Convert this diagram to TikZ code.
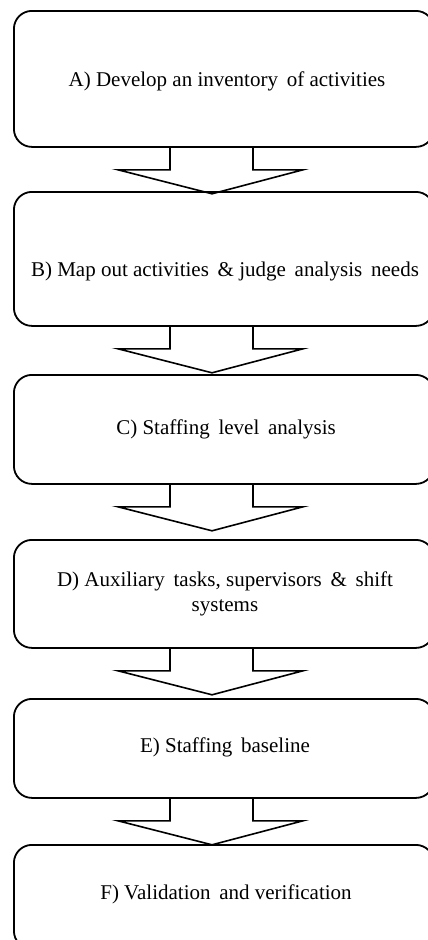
\documentclass[tikz,border=0pt]{standalone}
\usepackage{fontspec}
\setmainfont{Liberation Serif}
\usetikzlibrary{calc}
\begin{document}
\begin{tikzpicture}[x=1pt,y=-1pt,
  stagebox/.style={draw=black,line width=1.8pt,rounded corners=18pt,minimum width=420pt,anchor=north west,inner sep=0pt},
  stagetext/.style={font=\fontsize{21}{25}\selectfont,align=center,inner sep=0pt},
  conn/.style={draw=black,line width=1.6pt,line join=miter}]
\useasboundingbox (0,0) rectangle (428,940);
\fill[white] (0,0) rectangle (428,940);
% boxes
\node[stagebox,minimum height=136pt] (A) at (13,10) {};
\node[stagebox,minimum height=134pt] (B) at (13,191) {};
\node[stagebox,minimum height=109pt] (C) at (13,374) {};
\node[stagebox,minimum height=108pt] (D) at (13,539) {};
\node[stagebox,minimum height=99pt]  (E) at (13,698) {};
\node[stagebox,minimum height=104pt] (F) at (13,844) {};
% texts
\node[stagetext] (tA) at (227,81) {A) Develop an inventory\, of activities};
\node[stagetext] (tB) at (225,271) {B) Map out activities\, \& judge\, analysis\, needs};
\node[stagetext] (tC) at (226,429) {C) Staffing\, level\, analysis};
\node[stagetext] (tD) at (225,594) {D) Auxiliary\, tasks, supervisors\, \&\, shift\\systems};
\node[stagetext] (tE) at (225,747) {E) Staffing\, baseline};
\node[stagetext] (tF) at (226,894) {F) Validation\, and verification};
% block arrows
\newcommand{\blockarr}[1]{%
  \draw[conn] ($(#1.south west)+(157,0)$) -- ++(0,22) -- ++(-52,0) -- ++(94,24) -- ++(91,-24) -- ++(-50,0) -- ++(0,-22);}
\blockarr{A}
\blockarr{B}
\blockarr{C}
\blockarr{D}
\blockarr{E}
\end{tikzpicture}
\end{document}
